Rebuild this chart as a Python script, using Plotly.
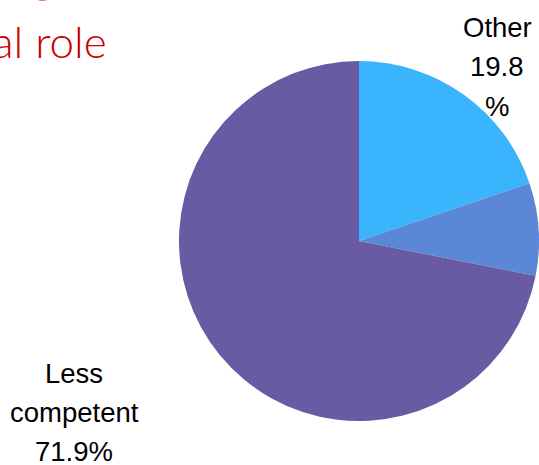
import plotly.graph_objects as go

# Self-rated competency breakdown
categories = ["Other", "More competent", "Less competent"]
shares = [19.8, 8.3, 71.9]
slice_colors = ["#3bb4fe", "#5b88d6", "#685ba3"]

W, H = 539, 465
cx, cy, r = 359, 241, 180  # pie centre / radius in pixels

fig = go.Figure(
    go.Pie(
        labels=categories,
        values=shares,
        sort=False,
        direction="clockwise",
        rotation=0,
        marker=dict(colors=slice_colors, line=dict(width=0)),
        textinfo="none",
        hoverinfo="label+percent",
        showlegend=False,
        domain=dict(
            x=[(cx - r) / W, (cx + r) / W],
            y=[(H - cy - r) / H, (H - cy + r) / H],
        ),
    )
)


def px(x, y):
    return x / W, 1 - y / H


label_font = dict(family="Liberation Sans, Arial, sans-serif", size=27.5, color="#000000")
annotations = []

# Slice labels, one line each
other_lines = [categories[0], f"{shares[0]}", "%"]
for i, t in enumerate(other_lines):
    x, y = px(497, 28 + 39 * i)
    annotations.append(dict(x=x, y=y, xref="paper", yref="paper", text=t,
                            showarrow=False, font=label_font,
                            xanchor="center", yanchor="middle"))

less_lines = categories[2].split(" ") + [f"{shares[2]}%"]
for i, t in enumerate(less_lines):
    x, y = px(74, 373 + 39 * i)
    annotations.append(dict(x=x, y=y, xref="paper", yref="paper", text=t,
                            showarrow=False, font=label_font,
                            xanchor="center", yanchor="middle"))

# Slide heading
title_font = dict(family="Lato, sans-serif", color="#cc0000")
x, y = px(400, 5)
annotations.append(dict(x=x, y=y, xref="paper", yref="paper",
                        text="<b>Rating of own ability</b>", showarrow=False,
                        font=dict(size=54, **title_font),
                        xanchor="right", yanchor="bottom"))
x, y = px(109, 69)
annotations.append(dict(x=x, y=y, xref="paper", yref="paper",
                        text="in their professional role", showarrow=False,
                        font=dict(size=44, weight=300, **title_font),
                        xanchor="right", yanchor="bottom"))

fig.update_layout(
    width=W, height=H,
    margin=dict(l=0, r=0, t=0, b=0),
    paper_bgcolor="white",
    plot_bgcolor="white",
    annotations=annotations,
)

fig.write_html("out.html")
